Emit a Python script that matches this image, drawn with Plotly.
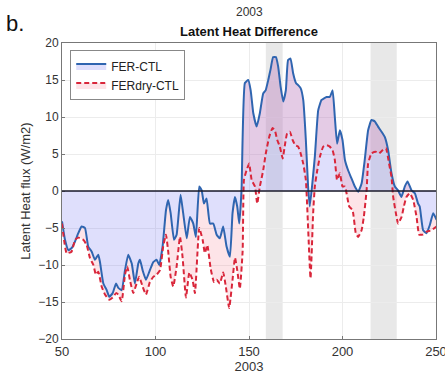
import plotly.graph_objects as go

# FER-CTL (blue solid)
fer_day = [50, 51.6, 53.4, 55.2, 57, 58.7, 60.5, 62.3, 64, 65.9, 67.6, 69.4, 70.3, 72.1, 73.9, 75.3,
           77.1, 78.9, 80.1, 81.9, 83.7, 85.4, 87.3, 89, 90.8, 91.7, 93.1, 94.9, 97, 98.8, 100.6, 102,
           103.8, 105.6, 106.8, 108.1, 109.9, 111.3, 113.4, 114.8, 116.7, 118.4, 120.2, 121.6, 123.4,
           124.7, 125.9, 127.3, 129.1, 130.9, 132.7, 134.4, 136.2, 138, 139.8, 141.2, 142.5, 143.7,
           144.8, 146, 147.8, 149.6, 150.9, 152.3, 154.1, 155.8, 157.6, 158.9, 160.3, 161.5, 162.9,
           164.4, 165.6, 166.9, 168.3, 169.7, 170.9, 172.2, 173.6, 175.1, 176.3, 177.6, 179, 180.4,
           181.6, 182.5, 185.2, 187, 188.8, 191.5, 193.2, 194.7, 195.9, 197.1, 198.6, 200, 201.3, 203,
           204.8, 206.6, 208.4, 210.2, 211.9, 213.7, 215.5, 217.3, 219, 220.9, 222.6, 224.4, 226.2,
           228, 229.7, 231.5, 233.3, 234.8, 236.9, 238.7, 240.4, 241.3, 243.1, 244.9, 246.7, 248.5, 250.3]
fer_ctl = [-4.1, -6.6, -8.0, -7.7, -6.8, -5.7, -4.8, -5.0, -7.5, -8.2, -9.3, -8.6, -9.6, -12.5, -13.4, -14.3,
           -13.8, -12.5, -13.1, -13.4, -10.7, -8.6, -9.8, -12.5, -9.8, -9.3, -10.7, -12.0, -10.7, -9.6, -9.3, -10.0,
           -7.5, -2.6, -1.2, -3.0, -6.6, -5.9, -0.5, -3.0, -6.4, -3.5, -4.4, -6.2, 0.6,
           0.1, -1.7, -1.0, -4.4, -4.4, -5.9, -6.4, -4.8, -7.5, -8.9, -3.0, -0.8, -2.1,
           -4.4, 0.1, 14.6, 15.0, 13.6, 10.5, 8.7, 10.5, 13.2, 13.6, 15.0, 16.4, 18.1,
           18.1, 16.8, 14.1, 12.1, 13.6, 17.7, 17.9, 15.9, 14.6, 14.3, 13.9, 12.3, 6.9,
           0.6, -2.1, 4.6, 10.9, 12.3, 12.7, 12.7, 13.6, 10.0, 6.4, 8.2, 6.9, 4.2, 2.8,
           1.7, 0.6, -0.1, 1.0, 4.2, 8.2, 9.6, 9.4, 8.7, 8.0, 7.3, 5.5, 2.4,
           0.6, 0.1, -0.8, 0.6, 1.3, 0.1, -0.3, -1.7, -2.1, -5.3, -5.7, -4.6, -3.0, -3.9]

# FERdry-CTL (red dashed)
dry_day = [50, 52.5, 55.1, 57, 58.7, 61.4, 63.2, 65, 66.8, 68.1, 69.4, 71.2, 73, 75.3, 77.1, 78.9, 80.1,
           81.9, 83.7, 84.9, 86.3, 88.1, 89.9, 91.3, 93.1, 94.9, 97, 98.8, 100.6, 102.4, 104.1, 105.6,
           106.8, 108.1, 109.5, 111.3, 113.1, 114.5, 116.3, 118.1, 119.8, 121.1, 123.4, 125.2, 126.4,
           127.7, 129.5, 131.3, 132.7, 134.4, 136.2, 137.6, 139.4, 141.2, 142.5, 143.7, 145.1, 146.6,
           147.3, 148.7, 150.1, 151.4, 153.2, 154.4, 155.8, 157.6, 159, 160.8, 162.6, 163.8, 165.1,
           166.5, 168, 169.2, 170.4, 171.9, 173.3, 174.7, 176.3, 177.6, 179, 180.4, 182.9, 184.3,
           185.2, 186.5, 187.9, 189.7, 191.5, 193.2, 194.7, 195.9, 197.1, 198.6, 200, 201.3, 203.6,
           205.4, 207.1, 208.4, 210.2, 211.4, 212.9, 213.7, 215.5, 217.8, 219.6, 221.4, 223.2, 224.9,
           226.2, 227.1, 228.9, 229.7, 231.6, 232.8, 234.2, 236, 237.8, 239.6, 241, 242.8, 244.9,
           247.6, 250.3]
ferdry_ctl = [-4.4, -8.4, -8.2, -6.6, -6.3, -6.6, -7.3, -9.1, -10.0, -11.3, -10.9, -12.9, -14.0, -14.7, -14.4, -13.8, -14.0,
              -14.9, -11.3, -10.2, -12.0, -13.8, -12.5, -11.6, -12.9, -14.0, -12.3, -11.6, -11.3, -10.7, -7.5, -5.9,
              -8.2, -11.6, -12.9, -10.2, -6.2, -9.0, -14.4, -11.0, -12.0, -13.8, -5.0, -6.6, -8.4,
              -7.3, -10.5, -12.3, -12.0, -12.5, -11.0, -12.9, -15.8, -12.0, -9.0, -10.7, -13.2, -8.1,
              1.5, 2.8, 3.7, 1.5, 0.6, -1.7, 0.6, 2.8, 5.1, 7.3, 8.5, 8.2, 6.9,
              6.0, 4.4, 6.2, 7.8, 8.0, 6.9, 6.2, 6.0, 5.1, 3.7, 1.5, -11.8, -3.0,
              0.6, 2.8, 4.6, 6.0, 6.2, 6.0, 5.5, 4.2, 1.5, 2.4, 0.6, 0.6, -2.1,
              -2.6, -5.7, -6.2, -5.3, -3.5, 0.1, 3.7, 5.1, 5.3, 5.1, 5.5, 5.8, 3.7,
              1.9, -0.8, -3.5, -4.4, -3.5, -2.1, -0.8, -0.3, -1.2, -3.5, -5.9, -5.9, -5.5,
              -5.3, -4.8]

# shaded periods (days)
band_start = [159, 215]
band_end = [168, 229]

x_ticks = [50, 100, 150, 200, 250]
y_ticks = [-20, -15, -10, -5, 0, 5, 10, 15, 20]

BLUE = "#2f65b0"
RED = "#d9263a"
FONT = "Liberation Sans, Arial, sans-serif"

fig = go.Figure()

fig.add_trace(go.Scatter(
    x=fer_day, y=fer_ctl, name="FER-CTL", mode="lines",
    line=dict(color=BLUE, width=2, shape="spline", smoothing=0.4),
    fill="tozeroy", fillcolor="rgba(110,110,240,0.22)",
))
fig.add_trace(go.Scatter(
    x=dry_day, y=ferdry_ctl, name="FERdry-CTL", mode="lines",
    line=dict(color=RED, width=2, dash="5px,3px", shape="spline", smoothing=0.4),
    fill="tonexty", fillcolor="rgba(245,130,150,0.22)",
))

for s, e in zip(band_start, band_end):
    fig.add_vrect(x0=s, x1=e, fillcolor="rgb(232,232,232)", opacity=1,
                  line_width=0, layer="below")

fig.add_hline(y=0, line=dict(color="#1a1a2a", width=1.5))

fig.update_layout(
    width=445, height=385,
    margin=dict(l=62, r=9, t=43, b=46, autoexpand=False),
    paper_bgcolor="white", plot_bgcolor="rgba(0,0,0,0)",
    font=dict(family=FONT, size=12, color="#333"),
    showlegend=True,
    legend=dict(x=0.022, y=0.975, xanchor="left", yanchor="top",
                bgcolor="white", bordercolor="#888", borderwidth=1,
                font=dict(size=12, color="#222"), tracegroupgap=0,
                traceorder="normal", itemwidth=30),
    xaxis=dict(range=[50, 250], tickvals=x_ticks, showgrid=True,
               gridcolor="#ececec", gridwidth=1, zeroline=False,
               showline=True, linecolor="#777", mirror=True, ticks="inside",
               ticklen=3, tickcolor="#777", ticklabeloverflow="allow",
               automargin=False,
               title=dict(text="2003", font=dict(size=13, color="#333"), standoff=2),
               tickfont=dict(size=13, color="#333")),
    yaxis=dict(range=[-20, 20], tickvals=y_ticks, showgrid=True,
               gridcolor="#ececec", gridwidth=1, zeroline=False,
               showline=True, linecolor="#777", mirror=True, ticks="inside",
               ticklen=3, tickcolor="#777", automargin=False,
               title=dict(text="Latent Heat flux (W/m2)", font=dict(size=13, color="#333"), standoff=4),
               tickfont=dict(size=12, color="#333")),
    annotations=[
        dict(text="<b>Latent Heat Difference</b>", x=0.5, y=1.0, xref="paper", yref="paper",
             xanchor="center", yanchor="bottom", yshift=2, showarrow=False,
             font=dict(size=13, color="#111")),
        dict(text="2003", x=0.5, y=1.0, xref="paper", yref="paper",
             xanchor="center", yanchor="bottom", yshift=22, showarrow=False,
             font=dict(size=12, color="#333")),
        dict(text="b.", x=-62 / 374, y=1.0, xref="paper", yref="paper",
             xanchor="left", yanchor="bottom", yshift=5, xshift=4, showarrow=False,
             font=dict(size=22, color="#111")),
    ],
)

fig.write_html("out.html")
